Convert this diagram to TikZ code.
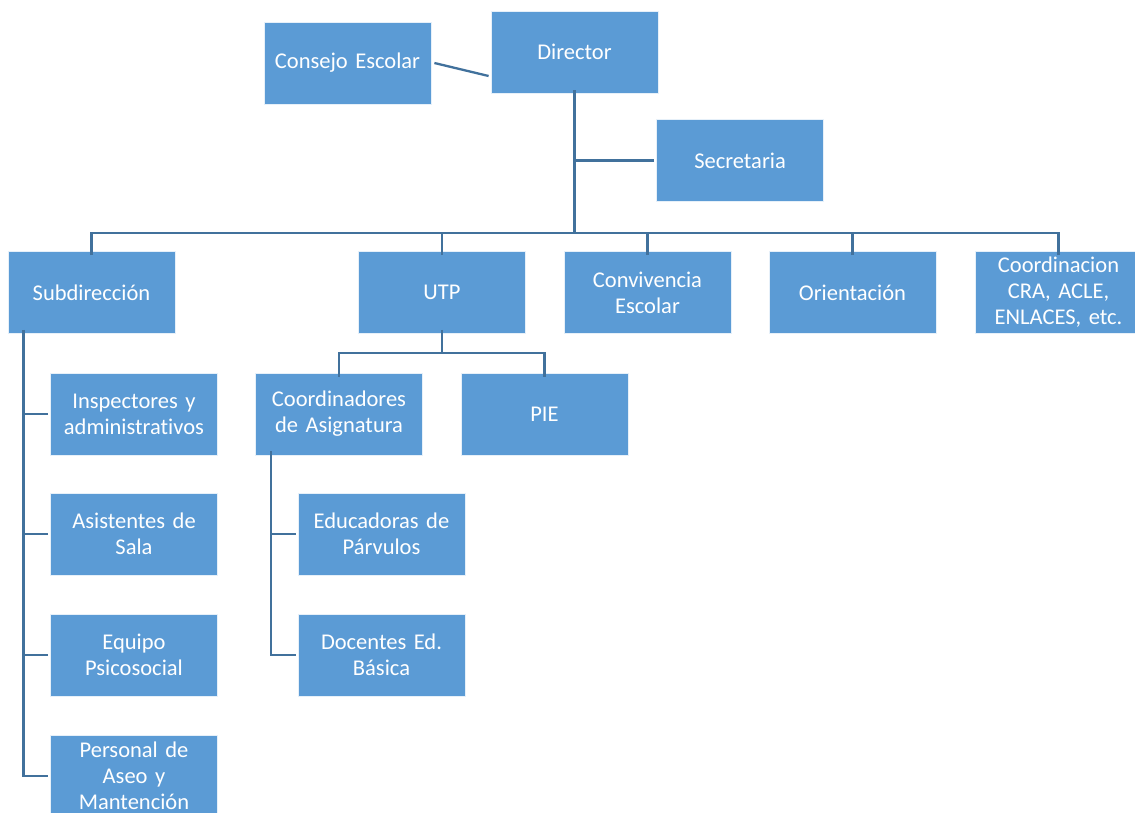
\documentclass[tikz,border=0pt]{standalone}
\usepackage{fontspec}
\setmainfont{Carlito}[Ligatures={NoCommon}]
\usetikzlibrary{calc}
\definecolor{boxfill}{HTML}{5B9BD5}
\definecolor{linecol}{HTML}{41719C}
\tikzset{
  orgbox/.style={rectangle, fill=boxfill, draw=white!85!boxfill, line width=0.8pt,
    minimum width=167pt, minimum height=82pt, text width=164pt, align=center,
    inner sep=0pt, text=white, font=\fontsize{22.5}{26}\selectfont},
  conn/.style={draw=linecol, line width=2.3pt},
}
\begin{document}
\begin{tikzpicture}[x=1pt,y=-1pt]
\clip (0,0) rectangle (1135,813);
\fill[white] (0,0) rectangle (1135,813);
\node[orgbox] (cons) at (347.5,63) {Consejo Escolar};
\node[orgbox] (dir) at (574.5,52) {Director};
\node[orgbox] (sec) at (740,160.5) {Secretaria};
\node[orgbox] (sub) at (91.5,292.5) {Subdirección};
\node[orgbox] (utp) at (442,292.5) {UTP};
\node[orgbox] (conv) at (647.5,292.5) {Convivencia\\Escolar};
\node[orgbox] (orient) at (852.5,292.5) {Orientación};
\node[orgbox] (coord) at (1058.5,292.5) {Coordinacion\\CRA, ACLE,\\ENLACES, etc.};
\node[orgbox] (coas) at (339,414) {Coordinadores\\de Asignatura};
\node[orgbox] (pie) at (544.5,414) {PIE};
\node[orgbox] (edu) at (381.5,534) {Educadoras de\\Párvulos};
\node[orgbox] (doc) at (381.5,655) {Docentes Ed.\\Básica};
\node[orgbox] (insp) at (134,414) {Inspectores y\\administrativos};
\node[orgbox] (asis) at (134,534) {Asistentes de\\Sala};
\node[orgbox] (equi) at (134,655) {Equipo\\Psicosocial};
\node[orgbox] (pers) at (134,776) {Personal de\\Aseo y\\Mantención};
% coordinates
\coordinate (bus) at (0,233);
\coordinate (ubus) at (0,353);
\coordinate (dirin) at ($(dir.west)+(-2,24)$);
\coordinate (consout) at ($(cons.east)+(3,0)$);
\coordinate (sv) at ($(sub.south west)+(16,0)$);
\coordinate (cv) at ($(coas.south west)+(16,0)$);
% connectors
\draw[conn] (consout) -- (dirin);
\draw[conn, line width=2.8pt] ([yshift=3pt]dir.south) -- (dir.south |- bus);
\draw[conn] ([xshift=-2pt]sec.west) -- (sec.west -| dir.south);
\draw[conn] ([yshift=-4pt]sub.north) -- (sub.north |- bus) -- (coord.north |- bus) -- ([yshift=-4pt]coord.north);
\draw[conn] ([yshift=-4pt]utp.north) -- (utp.north |- bus);
\draw[conn] ([yshift=-4pt]conv.north) -- (conv.north |- bus);
\draw[conn] ([yshift=-4pt]orient.north) -- (orient.north |- bus);
\draw[conn] ([yshift=4pt]utp.south) -- (utp.south |- ubus);
\draw[conn] ([yshift=-4pt]coas.north) -- (coas.north |- ubus) -- (pie.north |- ubus) -- ([yshift=-4pt]pie.north);
\draw[conn] ([yshift=4pt]sv) |- ([xshift=-2pt]pers.west);
\draw[conn] ([xshift=-2pt]insp.west) -- (insp.west -| sv);
\draw[conn] ([xshift=-2pt]asis.west) -- (asis.west -| sv);
\draw[conn] ([xshift=-2pt]equi.west) -- (equi.west -| sv);
\draw[conn] ([yshift=4pt]cv) |- ([xshift=-2pt]doc.west);
\draw[conn] ([xshift=-2pt]edu.west) -- (edu.west -| cv);
\end{tikzpicture}
\end{document}
